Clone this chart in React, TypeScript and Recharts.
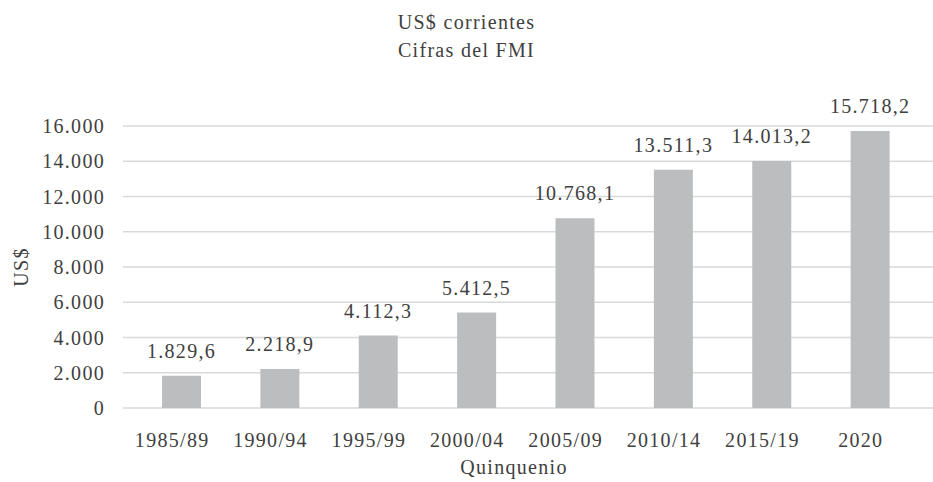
import React from 'react';
import { BarChart, Bar, XAxis, YAxis, CartesianGrid, LabelList } from 'recharts';

const categories = ['1985/89', '1990/94', '1995/99', '2000/04', '2005/09', '2010/14', '2015/19', '2020'];
const values = [1829.6, 2218.9, 4112.3, 5412.5, 10768.1, 13511.3, 14013.2, 15718.2];
const yTicks = [0, 2000, 4000, 6000, 8000, 10000, 12000, 14000, 16000];
const titleLines = ['US$ corrientes', 'Cifras del FMI'];

const data = categories.map((c, i) => ({ name: c, value: values[i] }));

const FONT = '"Liberation Serif", "DejaVu Serif", serif';
const TEXT = '#404040';
const FS = 20;
const LS = 1.3;

const thousands = (n: number) => {
  const s = Math.round(n).toString();
  return s.replace(/\B(?=(\d{3})+(?!\d))/g, '.');
};
const fmtLabel = (v: any) => {
  const n = Number(v);
  const int = Math.floor(n);
  const dec = Math.round((n - int) * 10);
  return `${thousands(int)},${dec}`;
};

const textStyle = { letterSpacing: LS };

export default function App() {
  return (
    <div style={{ position: 'absolute', left: 0, top: 0, width: 933, height: 482, background: '#fff', fontFamily: FONT }}>
      {titleLines.map((t, i) => (
        <div
          key={t}
          style={{
            position: 'absolute',
            left: 0,
            width: 933,
            top: 10 + i * 28,
            textAlign: 'center',
            fontSize: FS,
            lineHeight: '24px',
            letterSpacing: LS,
            color: TEXT,
            fontFamily: FONT,
          }}
        >
          {t}
        </div>
      ))}
      <BarChart
        width={933}
        height={482}
        data={data}
        margin={{ top: 126, right: 0, bottom: 0, left: 0 }}
      >
        <CartesianGrid x={123} width={810} vertical={false} stroke="#d9d9d9" strokeWidth={1.5} />
        <XAxis
          dataKey="name"
          height={74}
          padding={{ left: 9, right: 14 }}
          tickLine={false}
          axisLine={false}
          tickMargin={19}
          tick={{ fill: TEXT, fontSize: FS, fontFamily: FONT, style: textStyle, dx: -9 }}
          label={{ value: 'Quinquenio', position: 'insideBottom', offset: 8, dx: -14, fill: TEXT, fontSize: FS, fontFamily: FONT, style: textStyle }}
        />
        <YAxis
          width={123}
          domain={[0, 16000]}
          ticks={yTicks}
          interval={0}
          tickFormatter={thousands}
          axisLine={false}
          tickLine={false}
          tickMargin={12}
          tick={{ fill: TEXT, fontSize: FS, fontFamily: FONT, style: textStyle }}
          label={{ value: 'US$', angle: -90, position: 'center', dx: -41, fill: TEXT, fontSize: FS, fontFamily: FONT, style: textStyle }}
        />
        <Bar dataKey="value" fill="#bcbdbf" barSize={39} isAnimationActive={false}>
          <LabelList
            dataKey="value"
            position="top"
            offset={18}
            formatter={fmtLabel}
            fill={TEXT}
            fontSize={FS}
            fontFamily={FONT}
            style={textStyle}
          />
        </Bar>
      </BarChart>
    </div>
  );
}
